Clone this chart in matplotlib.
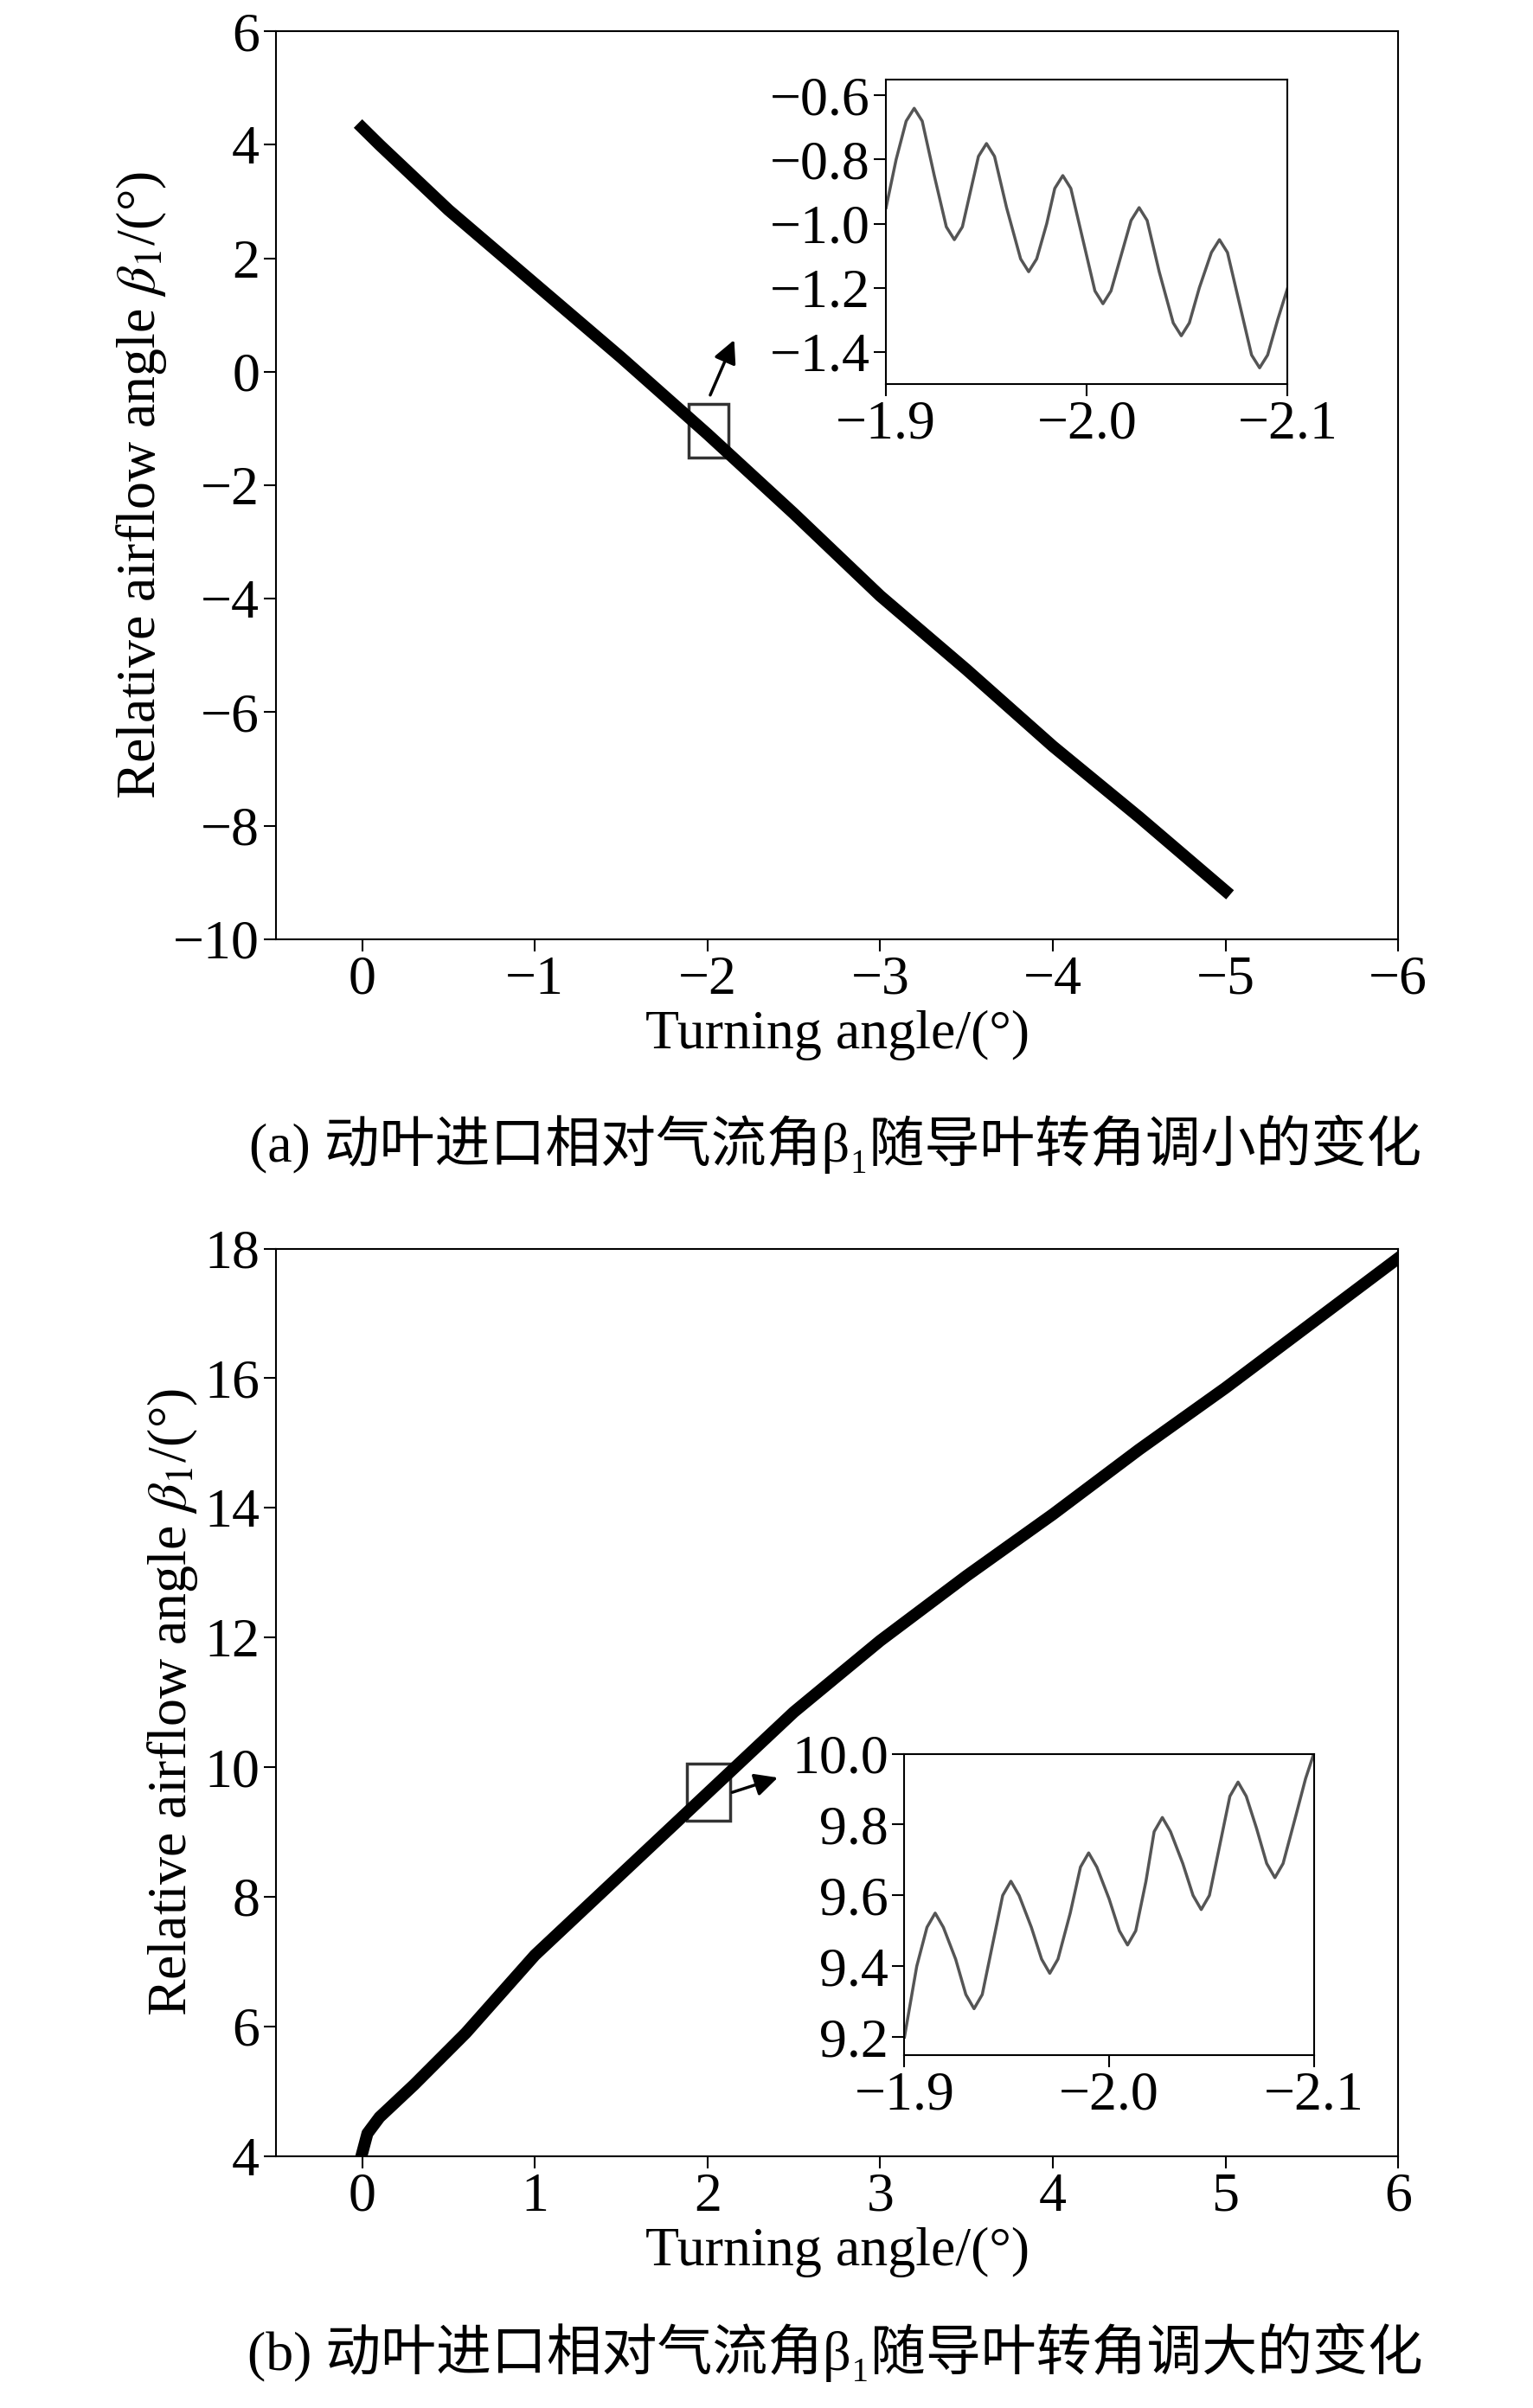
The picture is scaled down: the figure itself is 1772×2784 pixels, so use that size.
import matplotlib
matplotlib.use("Agg")
import matplotlib.pyplot as plt
from matplotlib.patches import Rectangle

plt.rcParams['font.family'] = ['Liberation Serif', 'Noto Sans CJK SC', 'DejaVu Sans']
plt.rcParams['mathtext.fontset'] = 'stix'

# main curves
xa = [0.0, -0.1, -0.5, -1.0, -1.5, -2.0, -2.5, -3.0, -3.5, -4.0, -4.5, -5.0]
ya = [4.3, 4.0, 2.85, 1.55, 0.25, -1.1, -2.5, -3.95, -5.25, -6.6, -7.85, -9.15]
xb = [0.0, 0.03, 0.1, 0.3, 0.6, 1.0, 1.5, 2.0, 2.5, 3.0, 3.5, 4.0, 4.5, 5.0, 5.5, 6.0]
yb = [4.05, 4.35, 4.6, 5.1, 5.9, 7.1, 8.35, 9.6, 10.85, 11.95, 12.95, 13.9, 14.9, 15.85, 16.85, 17.85]

# insets
xia = [-1.900, -1.905, -1.910, -1.914, -1.918, -1.924, -1.930, -1.934, -1.938, -1.942, -1.946, -1.950,
       -1.954, -1.960, -1.967, -1.971, -1.975, -1.980, -1.984, -1.988, -1.992, -1.998, -2.004, -2.008,
       -2.012, -2.017, -2.022, -2.026, -2.030, -2.036, -2.043, -2.047, -2.051, -2.056, -2.062, -2.066,
       -2.070, -2.076, -2.082, -2.086, -2.090, -2.095, -2.100]
yia = [-0.95, -0.80, -0.68, -0.64, -0.68, -0.85, -1.01, -1.05, -1.01, -0.90, -0.79, -0.75,
       -0.79, -0.95, -1.11, -1.15, -1.11, -1.00, -0.89, -0.85, -0.89, -1.05, -1.21, -1.25,
       -1.21, -1.10, -0.99, -0.95, -0.99, -1.15, -1.31, -1.35, -1.31, -1.20, -1.09, -1.05,
       -1.09, -1.25, -1.41, -1.45, -1.41, -1.30, -1.20]
xib = [-1.900, -1.906, -1.911, -1.915, -1.919, -1.925, -1.930, -1.934, -1.938, -1.943, -1.948, -1.952,
       -1.956, -1.962, -1.967, -1.971, -1.975, -1.981, -1.986, -1.990, -1.994, -2.000, -2.005, -2.009,
       -2.013, -2.018, -2.022, -2.026, -2.030, -2.036, -2.041, -2.045, -2.049, -2.054, -2.059, -2.063,
       -2.067, -2.072, -2.077, -2.081, -2.085, -2.091, -2.096, -2.100]
yib = [9.20, 9.40, 9.51, 9.55, 9.51, 9.42, 9.32, 9.28, 9.32, 9.46, 9.60, 9.64,
       9.60, 9.51, 9.42, 9.38, 9.42, 9.55, 9.68, 9.72, 9.68, 9.59, 9.50, 9.46,
       9.50, 9.64, 9.78, 9.82, 9.78, 9.69, 9.60, 9.56, 9.60, 9.74, 9.88, 9.92,
       9.88, 9.79, 9.69, 9.65, 9.69, 9.82, 9.93, 10.0]

FS = 46
fig = plt.figure(figsize=(17.72, 27.84), dpi=100)

def style(ax, fs=FS):
    ax.tick_params(direction='out', labelsize=fs, width=1.5, length=10)
    for s in ax.spines.values():
        s.set_linewidth(1.5)

# (a)
ax1 = fig.add_axes([0.18, 0.610, 0.732, 0.377])
ax1.plot(xa, ya, color='black', lw=10)
ax1.set_xlim(0.5, -6)
ax1.set_ylim(-10, 6)
ax1.set_xticks([0, -1, -2, -3, -4, -5, -6])
ax1.set_xticklabels(['0', '−1', '−2', '−3', '−4', '−5', '−6'])
ax1.set_yticks(range(-10, 7, 2))
ax1.set_yticklabels(['−10', '−8', '−6', '−4', '−2', '0', '2', '4', '6'])
ax1.set_xlabel('Turning angle/(°)', fontsize=FS)
ax1.set_ylabel(r'Relative airflow angle $\beta_1$/(°)', fontsize=FS)
style(ax1)
ax1.add_patch(Rectangle((-1.89, -1.51), -0.23, 0.94, fill=False, lw=2.5, color='#333333'))
ax1.annotate('', xy=(-2.16, 0.6), xytext=(-2.01, -0.45),
             arrowprops=dict(arrowstyle='-|>', color='black', lw=2.5, mutation_scale=40))

ia = fig.add_axes([0.578, 0.8406, 0.262, 0.1264])
ia.plot(xia, yia, color='#555555', lw=2.5)
ia.set_xlim(-1.9, -2.1)
ia.set_ylim(-1.5, -0.55)
ia.set_xticks([-1.9, -2.0, -2.1])
ia.set_xticklabels(['−1.9', '−2.0', '−2.1'])
ia.set_yticks([-1.4, -1.2, -1.0, -0.8, -0.6])
ia.set_yticklabels(['−1.4', '−1.2', '−1.0', '−0.8', '−0.6'])
style(ia)

fig.text(0.545, 0.525, '(a) 动叶进口相对气流角β₁随导叶转角调小的变化', fontsize=FS, ha='center', va='center')

# (b)
ax2 = fig.add_axes([0.18, 0.1046, 0.732, 0.3769])
ax2.plot(xb, yb, color='black', lw=10)
ax2.set_xlim(-0.5, 6)
ax2.set_ylim(4, 18)
ax2.set_xticks(range(0, 7))
ax2.set_yticks(range(4, 19, 2))
ax2.set_xlabel('Turning angle/(°)', fontsize=FS)
ax2.set_ylabel(r'Relative airflow angle $\beta_1$/(°)', fontsize=FS)
style(ax2)
ax2.add_patch(Rectangle((1.88, 9.18), 0.25, 0.88, fill=False, lw=2.5, color='#333333'))
ax2.annotate('', xy=(2.42, 9.85), xytext=(2.13, 9.6),
             arrowprops=dict(arrowstyle='-|>', color='black', lw=2.5, mutation_scale=40))

ib = fig.add_axes([0.590, 0.1467, 0.267, 0.125])
ib.plot(xib, yib, color='#555555', lw=2.5)
ib.set_xlim(-1.9, -2.1)
ib.set_ylim(9.15, 10.0)
ib.set_xticks([-1.9, -2.0, -2.1])
ib.set_xticklabels(['−1.9', '−2.0', '−2.1'])
ib.set_yticks([9.2, 9.4, 9.6, 9.8, 10.0])
style(ib)

fig.text(0.545, 0.023, '(b) 动叶进口相对气流角β₁随导叶转角调大的变化', fontsize=FS, ha='center', va='center')

fig.savefig('out.png', dpi=100, facecolor='white')
